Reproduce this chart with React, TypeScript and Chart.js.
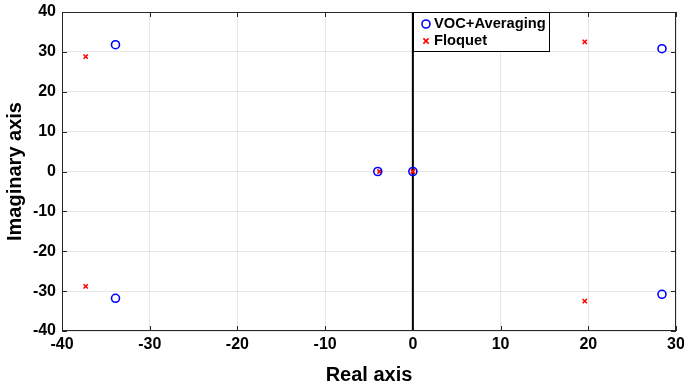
import React, { useEffect, useRef } from "react";
import { Chart, registerables } from "chart.js";

Chart.register(...registerables);

const vocReal = [-33.9, -33.9, -4.0, 0.0, 28.4, 28.4];
const vocImag = [31.8, -31.8, 0.0, 0.0, 30.8, -30.8];
const floqReal = [-37.3, -37.3, -3.8, 0.0, 19.6, 19.6];
const floqImag = [28.8, -28.8, 0.0, 0.0, 32.5, -32.5];
const seriesNames = ["VOC+Averaging", "Floquet"];

const FONT = "'Liberation Sans', Arial, sans-serif";
const AXIS = "#262626";

const decorPlugin = {
  id: "decor",
  beforeDatasetsDraw(chart: any) {
    const { ctx, chartArea: a, scales } = chart;
    const xs = scales.x;
    const ys = scales.y;
    ctx.save();
    const x0 = xs.getPixelForValue(0);
    ctx.strokeStyle = "#000";
    ctx.lineWidth = 2;
    ctx.beginPath();
    ctx.moveTo(x0, a.top);
    ctx.lineTo(x0, a.bottom);
    ctx.stroke();
    ctx.strokeStyle = AXIS;
    ctx.lineWidth = 1;
    ctx.strokeRect(a.left + 0.5, a.top + 0.5, a.right - a.left - 1, a.bottom - a.top - 1);
    const tl = 5;
    ctx.beginPath();
    xs.ticks.forEach((t: any) => {
      const px = Math.round(xs.getPixelForValue(t.value)) + 0.5;
      ctx.moveTo(px, a.bottom);
      ctx.lineTo(px, a.bottom - tl);
      ctx.moveTo(px, a.top);
      ctx.lineTo(px, a.top + tl);
    });
    ys.ticks.forEach((t: any) => {
      const py = Math.round(ys.getPixelForValue(t.value)) + 0.5;
      ctx.moveTo(a.left, py);
      ctx.lineTo(a.left + tl, py);
      ctx.moveTo(a.right, py);
      ctx.lineTo(a.right - tl, py);
    });
    ctx.stroke();
    ctx.restore();
  },
  afterDatasetsDraw(chart: any) {
    const { ctx, chartArea: a, scales } = chart;
    const x0 = scales.x.getPixelForValue(0);
    const bx = Math.round(x0);
    const by = Math.round(a.top);
    const bw = 137;
    const bh = 40;
    ctx.save();
    ctx.fillStyle = "#fff";
    ctx.fillRect(bx, by, bw, bh);
    ctx.strokeStyle = "#000";
    ctx.lineWidth = 1;
    ctx.strokeRect(bx + 0.5, by + 0.5, bw - 1, bh - 1);
    ctx.strokeStyle = "#0000ff";
    ctx.lineWidth = 1.6;
    ctx.beginPath();
    ctx.arc(bx + 13, by + 12, 4, 0, Math.PI * 2);
    ctx.stroke();
    ctx.strokeStyle = "#ff0000";
    ctx.lineWidth = 1.6;
    ctx.beginPath();
    const cx = bx + 13, cy = by + 29, r = 2.6;
    ctx.moveTo(cx - r, cy - r);
    ctx.lineTo(cx + r, cy + r);
    ctx.moveTo(cx + r, cy - r);
    ctx.lineTo(cx - r, cy + r);
    ctx.stroke();
    ctx.fillStyle = "#000";
    ctx.font = `bold 14.7px ${FONT}`;
    ctx.textBaseline = "middle";
    ctx.fillText(seriesNames[0], bx + 21, by + 12);
    ctx.fillText(seriesNames[1], bx + 21, by + 29);
    ctx.restore();
  },
};

export default function App() {
  const ref = useRef<HTMLCanvasElement>(null);
  useEffect(() => {
    if (!ref.current) return;
    const chart = new Chart(ref.current, {
      type: "scatter",
      data: {
        datasets: [
          {
            label: seriesNames[0],
            data: vocReal.map((x, i) => ({ x, y: vocImag[i] })),
            pointStyle: "circle",
            pointRadius: 4,
            pointBorderWidth: 1.6,
            borderColor: "#0000ff",
            backgroundColor: "rgba(0,0,0,0)",
          },
          {
            label: seriesNames[1],
            data: floqReal.map((x, i) => ({ x, y: floqImag[i] })),
            pointStyle: "crossRot",
            pointRadius: 3,
            pointBorderWidth: 1.6,
            borderColor: "#ff0000",
            backgroundColor: "#ff0000",
          },
        ],
      },
      options: {
        animation: false,
        responsive: false,
        maintainAspectRatio: false,
        layout: { padding: { top: 12, right: 8, left: 0, bottom: 0 } },
        plugins: { legend: { display: false }, tooltip: { enabled: false } },
        scales: {
          x: {
            type: "linear",
            min: -40,
            max: 30,
            ticks: {
              stepSize: 10,
              color: "#000",
              font: { family: FONT, weight: "bold", size: 16 },
              padding: 4,
            },
            grid: { color: "#e6e6e6", lineWidth: 1, drawTicks: false },
            border: { display: false },
            title: {
              display: true,
              text: "Real axis",
              color: "#000",
              font: { family: FONT, weight: "bold", size: 20 },
              padding: { top: 0, bottom: -1 },
            },
            afterFit: (s: any) => {
              s.height = 55;
              s.paddingLeft = 0;
              s.paddingRight = 0;
            },
          },
          y: {
            type: "linear",
            min: -40,
            max: 40,
            ticks: {
              stepSize: 10,
              color: "#000",
              font: { family: FONT, weight: "bold", size: 16 },
              padding: 6,
            },
            grid: { color: "#e6e6e6", lineWidth: 1, drawTicks: false },
            border: { display: false },
            title: {
              display: true,
              text: "Imaginary axis",
              color: "#000",
              font: { family: FONT, weight: "bold", size: 20 },
              padding: { top: 3, bottom: 0 },
            },
            afterFit: (s: any) => {
              s.width = 62;
              s.paddingTop = 0;
              s.paddingBottom = 0;
            },
          },
        },
      } as any,
      plugins: [decorPlugin],
    });
    return () => chart.destroy();
  }, []);
  return (
    <div style={{ position: "fixed", left: 0, top: 0, width: 684, height: 386, background: "#fff" }}>
      <canvas ref={ref} width={684} height={386} style={{ width: 684, height: 386 }} />
    </div>
  );
}
